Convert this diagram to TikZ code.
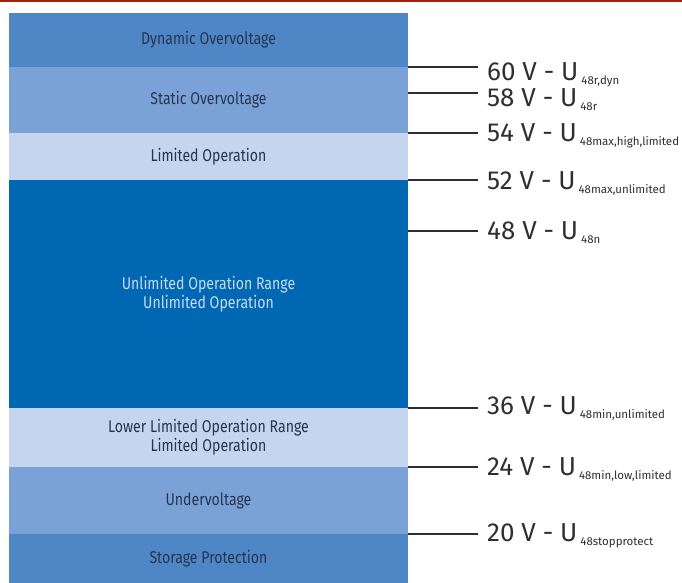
\documentclass[tikz,border=0pt]{standalone}
\usepackage{fontspec}
\setmainfont{Fira Sans}
\newfontfamily\bandfont[FakeStretch=0.83]{Fira Sans}
\usepackage{xcolor}
\usepackage{tikz}
\definecolor{bandmid}{HTML}{4F86C6}
\definecolor{bandsoft}{HTML}{7BA2D6}
\definecolor{bandpale}{HTML}{C6D5EE}
\definecolor{banddeep}{HTML}{0067B3}
\definecolor{bandtext}{HTML}{26354F}
\definecolor{deeptext}{HTML}{C8DBF2}
\definecolor{tickgray}{HTML}{2E2E2E}
\definecolor{labelgray}{HTML}{2F2F2F}
\definecolor{topred}{HTML}{A3200E}
\tikzset{
	band/.style={shape=rectangle, inner sep=0, outer sep=0, minimum width=399pt, align=center, text=bandtext, font=\bandfont\fontsize{17}{19}\selectfont},
	tick/.style={draw=tickgray, line width=1.4pt},
	volt/.style={anchor=base west, inner sep=0, text=labelgray, font=\fontsize{26}{30}\selectfont},
}
\newcommand{\usub}[1]{\hspace{3pt}\raisebox{-4pt}{\fontsize{11.5}{14}\selectfont #1}}

\begin{document}
\begin{tikzpicture}[x=1pt, y=-1pt]
	\useasboundingbox (0,0) rectangle (682,583);
	\fill [topred] (0,0) rectangle (682,2.5);
	% voltage bands
	\node [band, fill=bandmid, minimum height=54pt] (dyn) at (208.5, 40) {Dynamic Overvoltage};
	\node [band, fill=bandsoft, minimum height=66pt] (stat) at (208.5, 100) {Static Overvoltage};
	\node [band, fill=bandpale, minimum height=47pt] (lim) at (208.5, 156.5) {Limited Operation};
	\node [band, fill=banddeep, text=deeptext, minimum height=228pt] (unl) at (208.5, 294) {Unlimited Operation Range\\Unlimited Operation};
	\node [band, fill=bandpale, minimum height=59pt] (low) at (208.5, 437.5) {Lower Limited Operation Range\\Limited Operation};
	\node [band, fill=bandsoft, minimum height=67pt] (under) at (208.5, 500.5) {Undervoltage};
	\node [band, fill=bandmid, minimum height=49pt] (stor) at (208.5, 558.5) {Storage Protection};
	% voltage labels
	\node [volt] (l60) at (487, 80.5) {60 V - U\usub{48r,dyn}};
	\node [volt] (l58) at (487, 106.5) {58 V - U\usub{48r}};
	\node [volt] (l54) at (487, 141) {54 V - U\usub{48max,high,limited}};
	\node [volt] (l52) at (487, 189.5) {52 V - U\usub{48max,unlimited}};
	\node [volt] (l48) at (487, 239.5) {48 V - U\usub{48n}};
	\node [volt] (l36) at (487, 414) {36 V - U\usub{48min,unlimited}};
	\node [volt] (l24) at (487, 475.5) {24 V - U\usub{48min,low,limited}};
	\node [volt] (l20) at (487, 541.5) {20 V - U\usub{48stopprotect}};
	% tick ends
	\coordinate (e60) at (478, 67);
	\coordinate (e58) at (478, 93);
	\coordinate (e54) at (478, 133);
	\coordinate (e52) at (478, 180);
	\coordinate (e48) at (478, 231);
	\coordinate (e36) at (478, 408);
	\coordinate (e24) at (478, 467);
	\coordinate (e20) at (478, 534);
	\draw [tick] (dyn.south east) -- (e60);
	\draw [tick] (e58 -| stat.east) -- (e58);
	\draw [tick] (stat.south east) -- (e54);
	\draw [tick] (lim.south east) -- (e52);
	\draw [tick] (e48 -| unl.east) -- (e48);
	\draw [tick] (unl.south east) -- (e36);
	\draw [tick] (low.south east) -- (e24);
	\draw [tick] (under.south east) -- (e20);
\end{tikzpicture}
\end{document}
